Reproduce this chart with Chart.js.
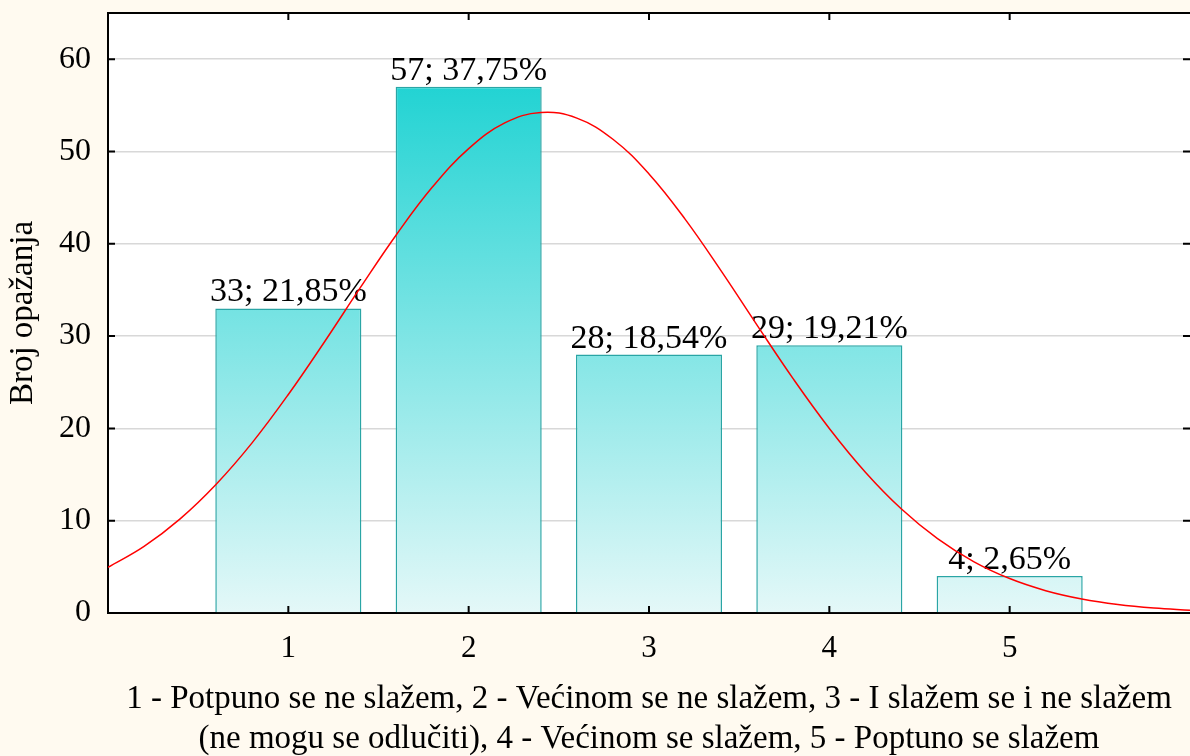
<!DOCTYPE html>
<html>
<head>
<meta charset="utf-8">
<script src="https://cdn.jsdelivr.net/npm/chart.js@4/dist/chart.umd.min.js"></script>
<style>
  html, body { margin: 0; padding: 0; background: #FFFAF0; }
  #wrap { width: 1190px; height: 756px; }
</style>
</head>
<body>
<div id="wrap"><canvas id="chart" width="1190" height="756"></canvas></div>
<script>
// Podaci
const categories = [1, 2, 3, 4, 5];
const counts = [33, 57, 28, 29, 4];
const percents = ['21,85', '37,75', '18,54', '19,21', '2,65'];
const xTickLabels = ['1', '2', '3', '4', '5'];
const yTicks = [0, 10, 20, 30, 40, 50, 60];
// očitana normalna krivulja
const curveX = [0, 0.2, 0.4, 0.6, 0.8, 1, 1.2, 1.4, 1.6, 1.8, 2, 2.2, 2.4, 2.6, 2.8, 3,
  3.2, 3.4, 3.6, 3.8, 4, 4.2, 4.4, 4.6, 4.8, 5, 5.2, 5.4, 5.6, 5.8, 6];
const curveY = [4.95, 7.22, 10.2, 13.95, 18.46, 23.67, 29.36, 35.27, 41.01, 46.17, 50.31,
  53.09, 54.22, 53.61, 51.32, 47.56, 42.67, 37.06, 31.16, 25.36, 19.99, 15.25, 11.26,
  8.05, 5.57, 3.73, 2.42, 1.52, 0.92, 0.54, 0.31];
const xTitle = [
  '1 - Potpuno se ne slažem, 2 - Većinom se ne slažem, 3 - I slažem se i ne slažem',
  '(ne mogu se odlučiti), 4 - Većinom se slažem, 5 - Poptuno se slažem',
];
const yTitle = 'Broj opažanja';

const FONT = '"Liberation Serif", "Times New Roman", serif';

// pozadina
const background = {
  id: 'background',
  beforeDraw(chart) {
    const { ctx, chartArea: a } = chart;
    ctx.save();
    ctx.fillStyle = '#FFFAF0';
    ctx.fillRect(0, 0, chart.width, chart.height);
    ctx.fillStyle = '#FFFFFF';
    ctx.fillRect(a.left, a.top, a.right - a.left, a.bottom - a.top);
    ctx.restore();
  },
};

// natpisi iznad stupaca
const barLabels = {
  id: 'barLabels',
  afterDatasetDraw(chart, args) {
    if (args.index !== 0) return;
    const { ctx } = chart;
    ctx.save();
    ctx.font = '34px ' + FONT;
    ctx.fillStyle = '#000';
    ctx.textAlign = 'center';
    ctx.textBaseline = 'alphabetic';
    args.meta.data.forEach((bar, i) => {
      ctx.fillText(counts[i] + '; ' + percents[i] + '%', bar.x, bar.y - 7);
    });
    ctx.restore();
  },
};

// okvir i unutarnje oznake
const frameTicks = {
  id: 'frameTicks',
  afterDraw(chart) {
    const { ctx, chartArea: a, scales: { x, y } } = chart;
    ctx.save();
    ctx.strokeStyle = '#000';
    ctx.lineWidth = 2;
    ctx.beginPath();
    ctx.moveTo(a.left - 1, a.top);
    ctx.lineTo(a.right, a.top);
    y.ticks.forEach((t) => {
      if (t.value <= 0) return;
      const py = y.getPixelForValue(t.value);
      ctx.moveTo(a.left, py);
      ctx.lineTo(a.left + 7, py);
      ctx.moveTo(a.right, py);
      ctx.lineTo(a.right - 7, py);
    });
    x.ticks.forEach((t) => {
      if (!categories.includes(t.value)) return;
      const px = x.getPixelForValue(t.value);
      ctx.moveTo(px, a.bottom);
      ctx.lineTo(px, a.bottom - 7);
      ctx.moveTo(px, a.top);
      ctx.lineTo(px, a.top + 7);
    });
    ctx.stroke();
    ctx.restore();
  },
};

function barGradient(context) {
  const { chart } = context;
  const a = chart.chartArea;
  if (!a) return '#7FE3E3';
  const g = chart.ctx.createLinearGradient(0, a.top, 0, a.bottom);
  g.addColorStop(0, 'rgb(7, 206, 206)');
  g.addColorStop(1, 'rgb(228, 248, 248)');
  return g;
}

const chart = new Chart(document.getElementById('chart'), {
  type: 'bar',
  data: {
    datasets: [
      {
        type: 'bar',
        data: categories.map((c, i) => ({ x: c, y: counts[i] })),
        backgroundColor: barGradient,
        borderColor: '#2AA5A5',
        borderWidth: 1.5,
        categoryPercentage: 1,
        barPercentage: 0.81,
        order: 1,
      },
      {
        type: 'line',
        data: curveX.map((v, i) => ({ x: v, y: curveY[i] })),
        borderColor: '#FF0000',
        borderWidth: 1.5,
        pointRadius: 0,
        tension: 0.4,
        fill: false,
        order: 0,
      },
    ],
  },
  options: {
    responsive: false,
    animation: false,
    layout: { padding: { top: 13, right: 0, left: 0, bottom: 0 } },
    plugins: { legend: { display: false }, tooltip: { enabled: false } },
    scales: {
      x: {
        type: 'linear',
        min: 0,
        max: 6,
        offset: false,
        grid: { display: false, offset: false, drawTicks: false },
        border: { display: true, color: '#000', width: 2 },
        ticks: {
          stepSize: 1,
          padding: 17,
          maxRotation: 0,
          color: '#000',
          font: { family: FONT, size: 31, lineHeight: 1.2 },
          callback: (v) => {
            const i = categories.indexOf(v);
            return i >= 0 ? xTickLabels[i] : '';
          },
        },
        title: {
          display: true,
          text: xTitle,
          color: '#000',
          font: { family: FONT, size: 33, lineHeight: '40px' },
          padding: { top: 0, bottom: -3 },
        },
        afterFit(scale) {
          scale.height = 143;
          scale.paddingLeft = 0;
          scale.paddingRight = 0;
        },
      },
      y: {
        min: 0,
        max: 65,
        grid: { color: '#D8D8D8', lineWidth: 1.5, drawTicks: false },
        border: { display: true, color: '#000', width: 2 },
        ticks: {
          stepSize: 10,
          includeBounds: false,
          padding: 17,
          color: '#000',
          font: { family: FONT, size: 32, lineHeight: 1.2 },
          callback: (v) => (yTicks.includes(v) ? String(v) : ''),
        },
        title: {
          display: true,
          text: yTitle,
          color: '#000',
          font: { family: FONT, size: 33, lineHeight: 1.2 },
          padding: { top: 4, bottom: 0 },
        },
        afterFit(scale) {
          scale.width = 108;
          scale.paddingTop = 0;
          scale.paddingBottom = 0;
        },
      },
    },
  },
  plugins: [background, barLabels, frameTicks],
});
</script>
</body>
</html>
